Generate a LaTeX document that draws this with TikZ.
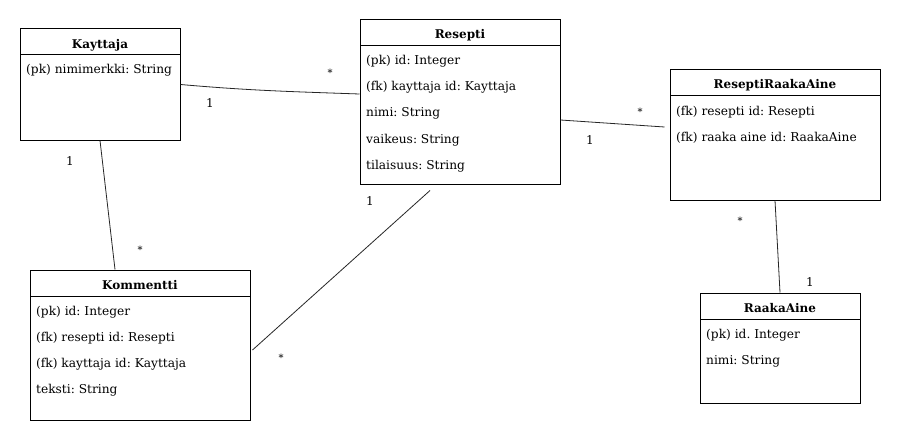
\documentclass[tikz,border=0pt]{standalone}
\usepackage{fontspec}
\setmainfont{DejaVu Serif}
\frenchspacing
\begin{document}
\begin{tikzpicture}[x=1pt,y=-1pt,
  box/.style={draw, line width=1pt, rectangle, inner sep=0pt},
  sep/.style={line width=1pt},
  ttl/.style={anchor=base, inner sep=0pt, font=\fontsize{12}{14}\selectfont\bfseries\frenchspacing},
  row/.style={anchor=base west, inner sep=0pt, font=\fontsize{12.2}{14}\selectfont\frenchspacing},
  conn/.style={line width=0.8pt, draw=black!85},
  mult/.style={inner sep=0pt, font=\fontsize{12}{14}\selectfont},
  star/.style={inner sep=0pt, font=\fontsize{10}{12}\selectfont}]
\useasboundingbox (0,0) rectangle (901,441);
\fill[white] (0,0) rectangle (901,441);

% Kayttaja
\node[box, minimum width=160pt, minimum height=111pt] (kay) at (100,84.5) {};
\draw[sep] (20,54.5) -- (180,54.5);
\node[ttl] (kayt) at (100,49) {Kayttaja};
\node[row] (kay1) at (26,74) {(pk) nimimerkki: String};

% Resepti
\node[box, minimum width=200pt, minimum height=164pt] (res) at (460,102) {};
\draw[sep] (360,46) -- (560,46);
\node[ttl] (rest) at (460,39) {Resepti};
\node[row] (res1) at (366,65) {(pk) id: Integer};
\node[row] (res2) at (366,91) {(fk) kayttaja id: Kayttaja};
\node[row] (res3) at (366,117) {nimi: String};
\node[row] (res4) at (366,143) {vaikeus: String};
\node[row] (res5) at (366,169) {tilaisuus: String};

% ReseptiRaakaAine
\node[box, minimum width=210pt, minimum height=130pt] (rra) at (775,135) {};
\draw[sep] (670,96) -- (880,96);
\node[ttl] (rrat) at (775,89) {ReseptiRaakaAine};
\node[row] (rra1) at (676,115) {(fk) resepti id: Resepti};
\node[row] (rra2) at (676,141) {(fk) raaka aine id: RaakaAine};

% Kommentti
\node[box, minimum width=220pt, minimum height=150pt] (kom) at (140,345) {};
\draw[sep] (30,296) -- (250,296);
\node[ttl] (komt) at (140,289) {Kommentti};
\node[row] (kom1) at (36,315) {(pk) id: Integer};
\node[row] (kom2) at (36,341) {(fk) resepti id: Resepti};
\node[row] (kom3) at (36,367) {(fk) kayttaja id: Kayttaja};
\node[row] (kom4) at (36,393) {teksti: String};

% RaakaAine
\node[box, minimum width=160pt, minimum height=110pt] (rak) at (780,348) {};
\draw[sep] (700,319) -- (860,319);
\node[ttl] (rakt) at (780,312) {RaakaAine};
\node[row] (rak1) at (706,338) {(pk) id. Integer};
\node[row] (rak2) at (706,364) {nimi: String};

% connectors
\coordinate (c1b) at ([yshift=8pt]res.west);
\draw[conn] (kay.east) to[out=-5, in=178] (c1b);
\coordinate (c2a) at ([yshift=-18pt]res.east);
\coordinate (c2b) at ([xshift=-5pt,yshift=8pt]rra.west);
\draw[conn] (c2a) -- (c2b);
\coordinate (c3a) at ([xshift=-30pt,yshift=-6pt]res.south);
\coordinate (c3b) at ([xshift=2pt,yshift=-5pt]kom.east);
\draw[conn] (c3a) -- (c3b);
\coordinate (c4b) at ([xshift=-25pt]kom.north);
\draw[conn] (kay.south) -- (c4b);
\draw[conn] (rra.south) -- (rak.north);

% multiplicities
\node[mult] (m1a) at (210,103) {1};
\node[star] (m1b) at (330,73) {*};
\node[mult] (m2a) at (590,140) {1};
\node[star] (m2b) at (640,112) {*};
\node[mult] (m3a) at (370,201) {1};
\node[star] (m3b) at (281,358) {*};
\node[mult] (m4a) at (70,161) {1};
\node[star] (m4b) at (140,250) {*};
\node[star] (m5a) at (740,221) {*};
\node[mult] (m5b) at (810,282) {1};
\end{tikzpicture}
\end{document}
